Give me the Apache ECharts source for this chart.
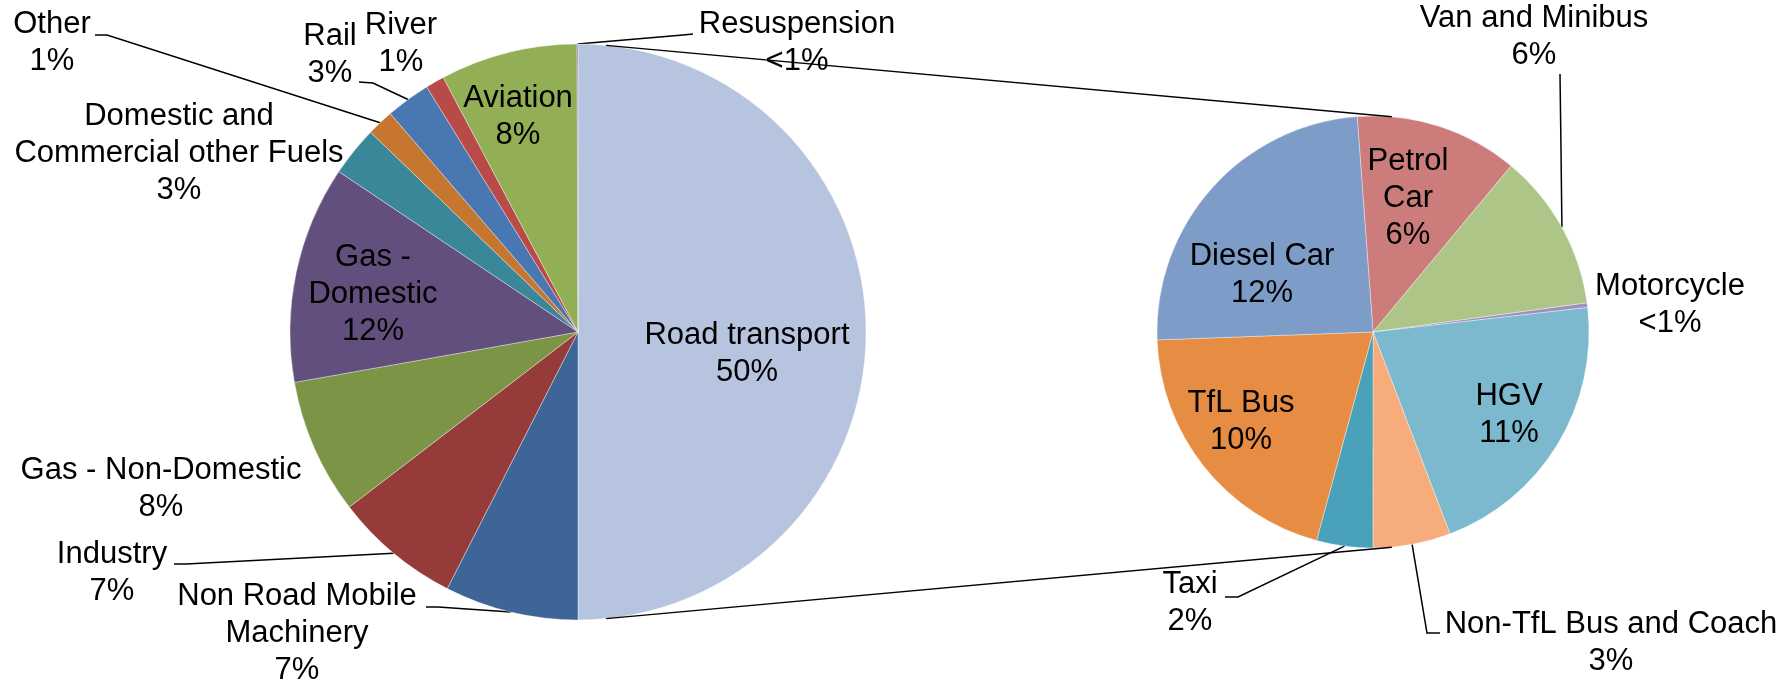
<!DOCTYPE html>
<html>
<head>
<meta charset="utf-8">
<script src="https://cdn.jsdelivr.net/npm/echarts@6/dist/echarts.min.js"></script>
<style>
  html, body { margin: 0; padding: 0; background: #fff; }
  #chart { width: 1783px; height: 684px; }
</style>
</head>
<body>
<div id="chart"></div>
<script>
// main pie - all sources
var mainNames = ['Road transport', 'Non Road Mobile\nMachinery', 'Industry', 'Gas - Non-Domestic', 'Gas -\nDomestic',
  'Domestic and\nCommercial other Fuels', 'Other', 'Rail', 'River', 'Aviation', 'Resuspension'];
var mainValues = [50, 7.5, 7.1, 7.6, 12.2, 2.8, 1.5, 2.5, 1.05, 7.7, 0.05];
var mainPct = ['50%', '7%', '7%', '8%', '12%', '3%', '1%', '3%', '1%', '8%', '<1%'];

// second pie - road transport split (share of total)
var roadNames = ['Petrol\nCar', 'Van and Minibus', 'Motorcycle', 'HGV', 'Non-TfL Bus and Coach', 'Taxi', 'TfL Bus', 'Diesel Car'];
var roadValues = [6.1, 5.9, 0.17, 10.5, 2.9, 2.1, 10.1, 12.2];
var roadPct = ['6%', '6%', '<1%', '11%', '3%', '2%', '10%', '12%'];

var mainColors = ['#B7C4DF', '#3E6597', '#953C3A', '#7B9446', '#634F7D', '#3A8799', '#C6762F', '#4877B2', '#B84B48', '#93AF55', '#8064A2'];
var roadColors = ['#CB7C7B', '#ADC587', '#A08EBC', '#7CB9CF', '#F6AC7B', '#49A1BA', '#E78D43', '#7D9CC7'];

// layout
var mainCenter = [578, 332], mainR = 288;
var subCenter = [1373, 332], subR = 216;

// label block centres, and [bend, end] of leader lines (null = no leader)
var mainSpots = [[747, 354], [297, 633], [112, 573], [161, 489], [373, 294], [179, 153], [52, 43], [330, 55], [401, 44], [518, 117], [797, 43]];
var mainLeaders = [null, [[438, 607], [426, 607]], [[186, 564], [174, 564]], null, null, null,
  [[107, 35], [95, 35]], [[373, 83], [359, 82]], null, null, [[683, 35], [693, 34]]];
var mainInside = [true, false, false, false, true, false, false, false, false, true, false];

var subSpots = [[1408, 198], [1534, 37], [1670, 305], [1509, 415], [1611, 643], [1190, 603], [1241, 422], [1262, 275]];
var subLeaders = [null, [[1561, 150], [1560, 74]], null, null, [[1427, 633], [1440, 633]], [[1238, 597], [1225, 597]], null, null];
var subInside = [true, false, false, true, false, false, true, true];

function buildData(names, values, colors, inside, leaders) {
  return names.map(function (n, i) {
    return {
      name: n,
      value: values[i],
      itemStyle: { color: colors[i] },
      label: { position: inside[i] ? 'inside' : 'outside' },
      labelLine: { show: !!leaders[i] }
    };
  });
}

function layoutFor(spots, leaders) {
  return function (p) {
    var s = spots[p.dataIndex];
    var out = { x: s[0], y: s[1], align: 'center', verticalAlign: 'middle' };
    var l = leaders[p.dataIndex];
    if (l && p.labelLinePoints && p.labelLinePoints.length) {
      out.labelLinePoints = [p.labelLinePoints[0], l[0], l[1]];
    }
    return out;
  };
}

function polar(c, r, deg) {
  var a = deg * Math.PI / 180;
  return [c[0] + r * Math.sin(a), c[1] - r * Math.cos(a)];
}

var labelBase = {
  show: true,
  color: '#000',
  fontFamily: '"Liberation Sans", Arial, sans-serif',
  fontSize: 31,
  lineHeight: 37,
  overflow: 'none'
};

var lineStyle = { color: '#000', width: 1.5 };

var topA = polar(mainCenter, mainR, 5.6), topB = polar(subCenter, subR, 5);
var botA = polar(mainCenter, mainR, 174.4), botB = polar(subCenter, subR, 175);

var chart = echarts.init(document.getElementById('chart'));
var option = {
  animation: false,
  backgroundColor: '#fff',
  series: [
    {
      type: 'pie',
      center: mainCenter,
      radius: mainR,
      startAngle: 90,
      clockwise: true,
      avoidLabelOverlap: false,
      silent: true,
      itemStyle: { borderColor: 'rgba(255,255,255,0.6)', borderWidth: 0.6 },
      label: Object.assign({}, labelBase, {
        formatter: function (p) { return p.name + '\n' + mainPct[p.dataIndex]; }
      }),
      labelLine: { length: 10, length2: 10, lineStyle: lineStyle },
      labelLayout: layoutFor(mainSpots, mainLeaders),
      emphasis: { disabled: true },
      data: buildData(mainNames, mainValues, mainColors, mainInside, mainLeaders)
    },
    {
      type: 'pie',
      center: subCenter,
      radius: subR,
      startAngle: 94.2,
      clockwise: true,
      avoidLabelOverlap: false,
      silent: true,
      itemStyle: { borderColor: 'rgba(255,255,255,0.6)', borderWidth: 0.6 },
      label: Object.assign({}, labelBase, {
        formatter: function (p) { return p.name + '\n' + roadPct[p.dataIndex]; }
      }),
      labelLine: { length: 10, length2: 10, lineStyle: lineStyle },
      labelLayout: layoutFor(subSpots, subLeaders),
      emphasis: { disabled: true },
      data: buildData(roadNames, roadValues, roadColors, subInside, subLeaders)
    }
  ],
  graphic: [
    { type: 'line', silent: true, z: 100, shape: { x1: topA[0], y1: topA[1], x2: topB[0], y2: topB[1] }, style: { stroke: '#000', lineWidth: 1.5 } },
    { type: 'line', silent: true, z: 100, shape: { x1: botA[0], y1: botA[1], x2: botB[0], y2: botB[1] }, style: { stroke: '#000', lineWidth: 1.5 } }
  ]
};
chart.setOption(option);
</script>
</body>
</html>
